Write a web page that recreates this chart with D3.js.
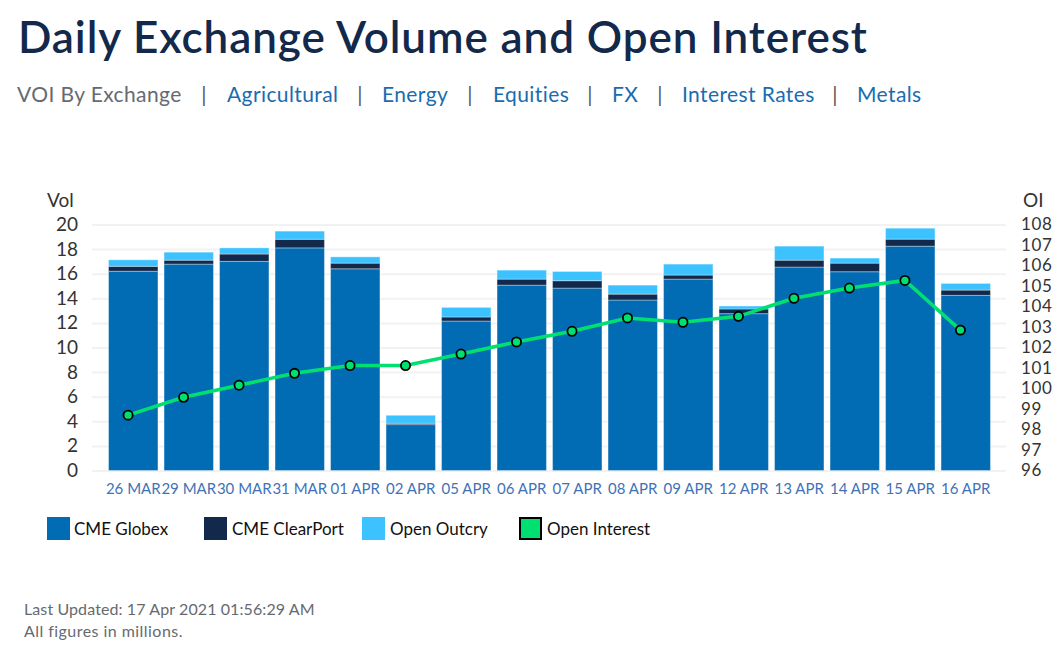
<!DOCTYPE html>
<html>
<head>
<meta charset="utf-8">
<script src="https://cdn.jsdelivr.net/npm/d3@7"></script>
<style>
  body { margin: 0; background: #fff; }
  text { font-family: Lato, "Open Sans", sans-serif; }
  .grid line { stroke: #f2f2f2; stroke-width: 2; }
  .grid path, .axis path { display: none; }
  .axis text { font-size: 19px; fill: #333; }
  .axis--oi text { font-size: 17px; letter-spacing: 0.6px; }
  .axis--x text { font-size: 15px; fill: #3f72b8; }
  .nav { font-size: 21px; letter-spacing: 0.4px; }
</style>
</head>
<body>
<div class="root"></div>
<script>
const dates = ['26 MAR', '29 MAR', '30 MAR', '31 MAR', '01 APR', '02 APR', '05 APR', '06 APR',
  '07 APR', '08 APR', '09 APR', '12 APR', '13 APR', '14 APR', '15 APR', '16 APR'];
const globex = [16.2, 16.78, 17.0, 18.1, 16.4, 3.73, 12.15, 15.07, 14.83, 13.86, 15.56, 12.75, 16.54, 16.16, 18.24, 14.24];
const clearport = [0.4, 0.32, 0.6, 0.7, 0.46, 0.11, 0.33, 0.49, 0.6, 0.48, 0.33, 0.38, 0.56, 0.7, 0.57, 0.43];
const outcry = [0.53, 0.65, 0.5, 0.66, 0.51, 0.65, 0.78, 0.73, 0.75, 0.73, 0.89, 0.24, 1.14, 0.41, 0.89, 0.54];
const openInterest = [98.7, 99.57, 100.16, 100.74, 101.12, 101.12, 101.68, 102.27, 102.79, 103.44, 103.23, 103.52, 104.4, 104.9, 105.27, 102.85];

const volTicks = d3.range(0, 21, 2);
const oiTicks = d3.range(96, 109);
const seriesNames = ['CME Globex', 'CME ClearPort', 'Open Outcry', 'Open Interest'];
const seriesColors = ['#016bb3', '#12294b', '#3cc2ff', '#00e070'];
const navLinks = ['Agricultural', 'Energy', 'Equities', 'FX', 'Interest Rates', 'Metals'];

const svgWidth = 1062;
const svgHeight = 661;

const svg = d3.select('.root')
  .append('svg')
  .attr('width', svgWidth)
  .attr('height', svgHeight)
  .style('display', 'block');

const plotTop = 224.5;
const plotBottom = 470.5;

const x = d3.scaleBand().domain(dates).range([105.5, 993.5]).paddingInner(0.11).paddingOuter(0.055);
// the line's points sit a little left of the bar centres
const xLine = d3.scalePoint().domain(dates).range([128.1, 960.4]);
const y = d3.scaleLinear().domain([0, 20]).range([plotBottom, plotTop]);
const yOi = d3.scaleLinear().domain([96, 108]).range([plotBottom, plotTop]);

// header
svg.append('text').attr('x', 18).attr('y', 53)
  .attr('font-size', 44).attr('font-weight', 600).attr('letter-spacing', 0.92)
  .attr('fill', '#12294b').text('Daily Exchange Volume and Open Interest');

svg.append('text').attr('class', 'nav').attr('x', 17).attr('y', 102)
  .attr('fill', '#666a70').text('VOI By Exchange');

const navX = [227, 382, 493, 612, 682, 857];
const sepX = [204, 360, 470, 590, 660, 835];
navLinks.forEach((d, i) => {
  svg.append('text').attr('class', 'nav').attr('x', sepX[i]).attr('y', 102)
    .attr('text-anchor', 'middle').attr('fill', '#555').text('|');
  svg.append('text').attr('class', 'nav').attr('x', navX[i]).attr('y', 102)
    .attr('fill', '#1a6cb0').text(d);
});

// gridlines
svg.append('g').attr('class', 'grid')
  .attr('transform', 'translate(92,0)')
  .call(d3.axisRight(y).tickValues(volTicks).tickSize(914).tickFormat(''));

// stacked bars
const rows = dates.map((d, i) => ({ date: d, globex: globex[i], clearport: clearport[i], outcry: outcry[i] }));
const stacked = d3.stack().keys(['globex', 'clearport', 'outcry'])(rows);

svg.append('g').selectAll('g')
  .data(stacked)
  .enter().append('g')
  .attr('fill', (d, i) => seriesColors[i])
  .selectAll('rect')
  .data(d => d)
  .enter().append('rect')
  .attr('x', d => x(d.data.date))
  .attr('y', d => y(d[1]))
  .attr('width', x.bandwidth())
  .attr('height', d => y(d[0]) - y(d[1]))
  .attr('stroke', 'rgba(255,255,255,0.35)')
  .attr('stroke-width', 1);

// axes
svg.append('g').attr('class', 'axis axis--y')
  .attr('transform', 'translate(84,0)')
  .call(d3.axisLeft(y).tickValues(volTicks).tickSize(0).tickPadding(6));

svg.append('g').attr('class', 'axis axis--oi')
  .attr('transform', 'translate(1015,0)')
  .call(d3.axisRight(yOi).tickValues(oiTicks).tickSize(0).tickPadding(6));

svg.append('g').attr('class', 'axis axis--x')
  .attr('transform', `translate(0,${plotBottom})`)
  .call(d3.axisBottom(x).tickSize(0).tickPadding(13));

svg.selectAll('.axis .tick line').remove();

svg.append('text').attr('x', 47).attr('y', 207).attr('font-size', 19).attr('fill', '#333').text('Vol');
svg.append('text').attr('x', 1023).attr('y', 207).attr('font-size', 19).attr('fill', '#333').text('OI');

// open interest line
const line = d3.line()
  .x((d, i) => xLine(dates[i]))
  .y(d => yOi(d));

svg.append('path')
  .attr('d', line(openInterest))
  .attr('fill', 'none')
  .attr('stroke', seriesColors[3])
  .attr('stroke-width', 3.5);

svg.append('g').selectAll('circle')
  .data(openInterest)
  .enter().append('circle')
  .attr('cx', (d, i) => xLine(dates[i]))
  .attr('cy', d => yOi(d))
  .attr('r', 4.6)
  .attr('fill', seriesColors[3])
  .attr('stroke', '#000')
  .attr('stroke-width', 1.8);

// legend
const legendX = [47, 204, 362, 519];
const legendTextX = [74, 232, 390, 547];
seriesNames.forEach((d, i) => {
  const isLine = i === 3;
  svg.append('rect')
    .attr('x', legendX[i] + (isLine ? 1 : 0)).attr('y', isLine ? 518 : 517)
    .attr('width', isLine ? 21 : 23).attr('height', isLine ? 21 : 23)
    .attr('fill', seriesColors[i])
    .attr('stroke', isLine ? '#000' : 'none')
    .attr('stroke-width', isLine ? 2 : 0);
  svg.append('text').attr('x', legendTextX[i]).attr('y', 535)
    .attr('font-size', 17).attr('fill', '#111').text(d);
});

// footer
svg.append('text').attr('x', 24).attr('y', 615)
  .attr('font-size', 16).attr('letter-spacing', 0.1).attr('fill', '#666a70').text('Last Updated: 17 Apr 2021 01:56:29 AM');
svg.append('text').attr('x', 24).attr('y', 637)
  .attr('font-size', 16).attr('letter-spacing', 0.45).attr('fill', '#666a70').text('All figures in millions.');
</script>
</body>
</html>
